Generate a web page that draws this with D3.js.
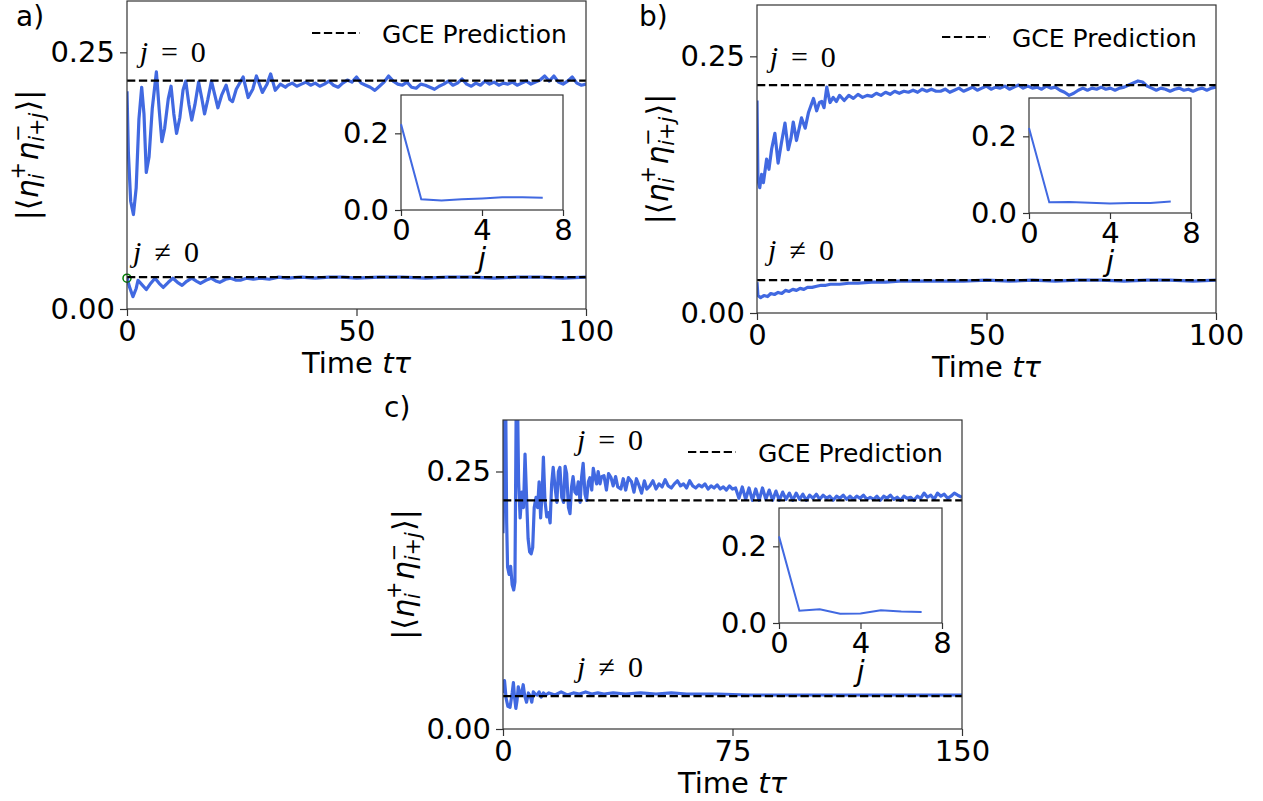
<!DOCTYPE html>
<html>
<head>
<meta charset="utf-8">
<script src="https://cdn.jsdelivr.net/npm/d3@7"></script>
<style>
  body { margin: 0; background: #fff; }
  text { font-family: "DejaVu Sans", sans-serif; }
</style>
</head>
<body>
<svg id="fig" width="1263" height="801"></svg>
<script>
// ---- data: [time, value] ----
const aZero = [[0,0.212],[0.3,0.152],[0.8,0.105],[1.4,0.092],[2.0,0.118],[2.6,0.185],[3.2,0.216],[3.7,0.19],[4.2,0.133],[4.8,0.148],[5.5,0.195],[6.4,0.231],[7.0,0.195],[7.6,0.163],[8.2,0.176],[9.0,0.205],[9.6,0.217],[10.2,0.19],[10.8,0.171],[11.5,0.186],[12.2,0.213],[12.8,0.222],[13.5,0.199],[14.1,0.184],[14.8,0.199],[15.6,0.221],[16.3,0.205],[16.9,0.19],[17.6,0.204],[18.4,0.222],[19.1,0.209],[19.8,0.196],[20.6,0.208],[21.6,0.218],[22.4,0.204],[23.0,0.202],[23.8,0.214],[25.3,0.226],[26.4,0.206],[27.4,0.214],[28.2,0.227],[29.5,0.211],[30.5,0.219],[31.3,0.229],[32.3,0.213],[33.4,0.219],[34.5,0.216],
  [35,0.218],[36,0.220],[37,0.217],[38,0.219],[39,0.221],[40,0.218],[41,0.220],[42,0.217],[43,0.219],[44,0.222],[45,0.218],[46,0.216],[47,0.220],[48,0.223],[49,0.221],[50,0.226],[51,0.220],[52,0.218],[53,0.216],[54,0.213],[55,0.217],[56,0.221],[57,0.227],[58,0.222],[59,0.219],[60,0.218],[61,0.221],[62,0.216],[63,0.215],[64,0.219],[65,0.218],[66,0.216],[67,0.214],[68,0.217],[69,0.219],[70,0.222],[71,0.218],[72,0.220],[73,0.224],[74,0.219],[75,0.217],[76,0.220],[77,0.218],[78,0.222],[79,0.219],[80,0.221],[81,0.218],[82,0.220],[83,0.219],[84,0.221],[85,0.218],[86,0.220],[87,0.222],[88,0.219],[89,0.221],[90,0.223],[91,0.227],[92,0.222],[93,0.227],[94,0.221],[95,0.219],[96,0.222],[97,0.226],[98,0.220],[99,0.218],[100,0.219]];
const aNonzero = [[0,0.031],[0.5,0.022],[1.3,0.012],[2.0,0.020],[2.4,0.028],[3.0,0.025],[4.2,0.019],[5.0,0.024],[6.1,0.030],[7.0,0.025],[7.9,0.021],[9.0,0.026],[10.0,0.030],[11.0,0.026],[12.0,0.023],[13.0,0.027],[14.1,0.030],[15.2,0.027],[16.0,0.025],[17.2,0.028],[18.3,0.030],[19.5,0.027],[20.2,0.026],[21.5,0.029],[22.6,0.030],[23.8,0.028],[24.7,0.028],[26,0.030],[27.5,0.029],[29,0.030],[31,0.029],[33,0.031],[35,0.030],[38,0.031],[41,0.030],[44,0.031],[47,0.031],[50,0.030],[55,0.031],[60,0.031],[65,0.030],[70,0.031],[75,0.031],[80,0.030],[85,0.031],[90,0.031],[95,0.030],[100,0.031]];
const aMarker = [[0,0.030]];

const bZero = [[0,0.207],[0.2,0.13],[0.6,0.122],[1.0,0.135],[1.4,0.127],[2.1,0.15],[2.6,0.14],[3.2,0.16],[3.9,0.175],[4.6,0.146],[5.3,0.165],[6.1,0.185],[6.8,0.159],[7.4,0.17],[7.9,0.186],[8.6,0.168],[9.7,0.19],[10.5,0.18],[11.2,0.195],[12.3,0.209],[13.0,0.197],[13.6,0.205],[14.1,0.206],[14.6,0.2],[15.2,0.22],[15.9,0.205],[16.6,0.21],[17.3,0.206],[18,0.212],[19,0.207],[20,0.212],[21,0.209],[22,0.213],[23,0.210],[24,0.212],[25,0.211],[26,0.214],[27,0.212],[28,0.215],[29,0.213],[30,0.216],[31,0.214],[32,0.216],[33,0.215],[34,0.217],[35,0.215],[36,0.218],[37,0.216],[38,0.218],[39,0.216],
  [40,0.216],[41,0.218],[42,0.215],[43,0.217],[44,0.219],[45,0.216],[46,0.218],[47,0.220],[48,0.217],[49,0.219],[50,0.221],[51,0.218],[52,0.220],[53,0.219],[54,0.221],[55,0.218],[56,0.220],[57,0.222],[58,0.219],[59,0.221],[60,0.219],[61,0.220],[62,0.218],[63,0.221],[64,0.219],[65,0.220],[66,0.217],[67,0.215],[68,0.212],[69,0.214],[70,0.217],[71,0.219],[72,0.217],[73,0.219],[74,0.218],[75,0.220],[76,0.218],[77,0.219],[78,0.217],[79,0.219],[80,0.220],[81,0.222],[82,0.224],[83,0.226],[84,0.225],[85,0.221],[86,0.219],[87,0.217],[88,0.219],[89,0.218],[90,0.216],[91,0.218],[92,0.219],[93,0.217],[94,0.218],[95,0.216],[96,0.218],[97,0.219],[98,0.217],[99,0.219],[100,0.220]];
const bNonzero = [[0,0.030],[0.2,0.017],[0.8,0.015],[1.5,0.017],[2.3,0.016],[3.0,0.019],[3.8,0.018],[4.6,0.020],[5.4,0.019],[6.2,0.022],[7.0,0.021],[7.8,0.023],[8.6,0.022],[9.4,0.024],[10.2,0.023],[11,0.025],[12,0.025],[13,0.026],[14,0.027],[15,0.027],[16,0.028],[18,0.028],[20,0.029],[22,0.029],[25,0.030],[28,0.030],[31,0.031],[35,0.031],[40,0.031],[45,0.031],[50,0.032],[55,0.031],[60,0.032],[65,0.031],[70,0.032],[75,0.032],[80,0.031],[85,0.032],[90,0.032],[95,0.031],[100,0.032]];

const cZero = [[0,0.19],[0.3,0.24],[0.6,0.33],[0.9,0.31],[1.2,0.2],[1.5,0.157],[2.0,0.15],[2.5,0.158],[3.0,0.14],[3.5,0.135],[3.9,0.143],[4.3,0.31],[4.7,0.33],[5.1,0.24],[5.6,0.205],[6.2,0.23],[6.7,0.215],[7.2,0.267],[7.7,0.225],[8.2,0.185],[8.7,0.172],[9.2,0.17],[9.7,0.176],[10.2,0.215],[10.8,0.225],[11.3,0.215],[11.8,0.24],[12.3,0.205],[12.8,0.23],[13.2,0.264],[13.7,0.222],[14.3,0.206],[14.9,0.21],[15.4,0.2],[15.9,0.238],[16.4,0.254],[17,0.235],[17.6,0.22],[18.1,0.25],[18.6,0.254],[19.2,0.225],[19.8,0.22],[20.3,0.255],[20.8,0.248],[21.4,0.215],[21.9,0.209],[22.4,0.235],[22.9,0.245],[23.5,0.23],[24,0.228],[24.6,0.24],[25.2,0.22],[25.7,0.245],[26.2,0.258],[26.8,0.228],[27.3,0.222],[27.9,0.24],[28.4,0.244],[29,0.232],[29.5,0.253],[30,0.245],[30.6,0.238],[31.1,0.25],[31.7,0.238],[32.2,0.245],[33.0,0.246],[33.8,0.232],[34.5,0.248],[35.3,0.244],[36,0.236],[36.8,0.245],[37.5,0.235],[38.5,0.233],[39.3,0.243],[40.1,0.232],[41,0.244],[42,0.24],[42.8,0.23],[43.6,0.243],[44.5,0.236],[45.3,0.229],[46.2,0.241],[47,0.233],[48,0.236],[49,0.241],[50,0.233],[51,0.238],[52,0.235],[53,0.242],[54,0.236],[55,0.234],[56,0.238],[57,0.241],
  [58,0.236],[59,0.238],[60,0.234],[61,0.241],[62,0.236],[63,0.234],[64,0.237],[65,0.235],[66,0.238],[67,0.233],[68,0.236],[69,0.234],[70,0.237],[71,0.233],[72,0.235],[73,0.232],[74,0.236],[75,0.233],
  [76,0.234],[77.1,0.224],[78.2,0.235],[79.3,0.223],[80.4,0.234],[81.5,0.222],[82.6,0.233],[83.7,0.222],[84.8,0.234],[85.9,0.223],[87,0.232],[88.1,0.222],[89.2,0.231],[90.3,0.222],[91.4,0.230],[92.5,0.223],[93.6,0.229],[94.7,0.222],[95.8,0.229],[96.9,0.223],[98,0.228],[99.1,0.222],[100.2,0.227],
  [101.3,0.224],[102.4,0.228],[103.5,0.223],[104.6,0.227],[105.7,0.224],[106.8,0.226],[107.9,0.222],[109,0.226],[110.1,0.224],[111.2,0.227],[112.3,0.223],[113.4,0.226],[114.5,0.223],[115.6,0.226],[116.7,0.224],[117.8,0.227],[118.9,0.223],[120,0.225],[121.1,0.223],[122.2,0.226],[123.3,0.222],[124.4,0.226],[125.5,0.224],[126.6,0.227],[127.7,0.223],[128.8,0.225],[129.9,0.222],[131,0.226],[132.1,0.224],[133.2,0.225],[134.3,0.222],[135.4,0.226],[136.5,0.224],[137.6,0.229],[138.7,0.225],[139.8,0.227],[140.9,0.223],[142,0.229],[143.1,0.226],[144.2,0.228],[145.3,0.224],[146.4,0.226],[147.5,0.229],[148.6,0.227],[150,0.225]];
const cNonzero = [[0,0.035],[0.5,0.047],[1.0,0.030],[1.6,0.022],[2.3,0.021],[3.0,0.035],[3.4,0.045],[3.8,0.030],[4.2,0.020],[4.6,0.028],[5.0,0.041],[5.5,0.034],[6.0,0.033],[6.6,0.043],[7.1,0.032],[7.7,0.026],[8.3,0.035],[8.9,0.032],[9.4,0.026],[9.9,0.036],[10.5,0.034],[11.2,0.033],[11.8,0.036],[12.5,0.031],[13.2,0.035],[14,0.033],[15,0.035],[17,0.033],[19,0.036],[21,0.033],[23,0.035],[25,0.034],[27,0.036],[29,0.034],[31,0.035],[33,0.034],[36,0.035],[40,0.034],[45,0.035],[50,0.034],[55,0.035],[60,0.034],[65,0.034],[70,0.034],[80,0.033],[90,0.033],[100,0.033],[110,0.033],[120,0.033],[130,0.033],[140,0.033],[150,0.033]];

// GCE prediction levels [j=0, j!=0]
const gceA = [0.2225, 0.031];
const gceB = [0.222, 0.032];
const gceC = [0.222, 0.032];

// insets: correlation vs j
const insetJ = [0, 1, 2, 3, 4, 5, 6, 7];
const insetA = [0.224, 0.028, 0.025, 0.028, 0.030, 0.033, 0.033, 0.032];
const insetB = [0.222, 0.028, 0.029, 0.027, 0.025, 0.026, 0.026, 0.030];
const insetC = [0.226, 0.032, 0.036, 0.024, 0.025, 0.033, 0.030, 0.029];

const yTicks = [0, 0.25];
const insetYTicks = [0, 0.2];
const insetXTicks = [0, 4, 8];

// layout of each panel (pixels)
const panels = [
  {name: 'a)', lx: 16, ly: 26, left: 127, top: 1, right: 586, bottom: 309, xMax: 100, xTicks: [0, 50, 100],
   zero: aZero, nonzero: aNonzero, gce: gceA, ins: insetA, box: [401, 95, 563, 210],
   j0: [2.8, 0.241], jn: [1.3, 0.046], marker: aMarker},
  {name: 'b)', lx: 639, ly: 26, left: 757, top: 5, right: 1216, bottom: 313, xMax: 100, xTicks: [0, 50, 100],
   zero: bZero, nonzero: bNonzero, gce: gceB, ins: insetB, box: [1029, 98, 1191, 213],
   j0: [2.8, 0.2395], jn: [2.4, 0.0516]},
  {name: 'c)', lx: 384, ly: 417, left: 503, top: 420, right: 962, bottom: 729, xMax: 150, xTicks: [0, 75, 150],
   zero: cZero, nonzero: cNonzero, gce: gceC, ins: insetC, box: [779, 508, 942, 623],
   j0: [24.2, 0.271], jn: [24.2, 0.0504]}
];

const blue = '#4169e1';
const fs = 29;
const svg = d3.select('#fig');

function styleAxis(g) {
  g.select('.domain').remove();
  g.selectAll('.tick line').attr('stroke', '#333').attr('stroke-width', 1.2);
  g.selectAll('.tick text').attr('fill', '#000').style('font-size', fs + 'px').style('font-family', 'DejaVu Sans');
}

// |<eta_i^+ eta_{i+j}^->| rotated label
function yLabel(x, y) {
  const s = 30, sm = 21;
  const g = svg.append('g');
  let pos = 0;
  const add = (parts, size, dy) => {
    const t = g.append('text').attr('x', pos).attr('y', dy).style('font-size', size + 'px');
    parts.forEach(p => t.append('tspan').text(p[0]).style('font-style', p[1] ? 'italic' : 'normal'));
    return t.node().getComputedTextLength();
  };
  pos += add([['|']], s, 0);
  pos += add([['⟨']], s, 0);
  pos += add([['η', 1]], s, 0);
  pos += Math.max(add([['+']], sm, -13), add([['i', 1]], sm, 6)) + 1;
  pos += add([['η', 1]], s, 0);
  pos += Math.max(add([['−']], sm, -13), add([['i', 1], ['+'], ['j', 1]], sm, 6)) + 1;
  pos += add([['⟩']], s, 0);
  pos += add([['|']], s, 0);
  g.attr('transform', `translate(${x},${y}) rotate(-90) translate(${-pos / 2},0)`);
}

panels.forEach((p, k) => {
  const x = d3.scaleLinear().domain([0, p.xMax]).range([p.left, p.right]);
  const y = d3.scaleLinear().domain([0, 0.3]).range([p.bottom, p.top]);
  const line = d3.line().x(d => x(d[0])).y(d => y(d[1]));

  svg.append('clipPath').attr('id', 'clip' + k)
    .append('rect').attr('x', p.left).attr('y', p.top)
    .attr('width', p.right - p.left).attr('height', p.bottom - p.top);

  // data curves
  svg.append('g').attr('clip-path', `url(#clip${k})`)
    .selectAll('path').data([p.zero, p.nonzero]).join('path')
    .attr('d', line).attr('fill', 'none').attr('stroke', blue)
    .attr('stroke-width', 3.2).attr('stroke-linejoin', 'round');

  if (p.marker) {
    svg.selectAll('.mk' + k).data(p.marker).join('circle')
      .attr('cx', d => x(d[0])).attr('cy', d => y(d[1])).attr('r', 4)
      .attr('fill', 'none').attr('stroke', 'green').attr('stroke-width', 1.5);
  }

  // GCE prediction dashed lines
  svg.append('g').selectAll('path').data(p.gce).join('path')
    .attr('d', v => line([[0, v], [p.xMax, v]]))
    .attr('stroke', '#000').attr('stroke-width', 2.2).attr('stroke-dasharray', '8.3,3.6');

  // frame
  svg.append('rect').attr('x', p.left).attr('y', p.top)
    .attr('width', p.right - p.left).attr('height', p.bottom - p.top)
    .attr('fill', 'none').attr('stroke', '#333').attr('stroke-width', 1.2);

  svg.append('g').attr('transform', `translate(0,${p.bottom})`)
    .call(d3.axisBottom(x).tickValues(p.xTicks).tickSize(7).tickPadding(4).tickFormat(d3.format('d')))
    .call(styleAxis);
  svg.append('g').attr('transform', `translate(${p.left},0)`)
    .call(d3.axisLeft(y).tickValues(yTicks).tickSize(7).tickPadding(5).tickFormat(d3.format('.2f')))
    .call(styleAxis);

  // x label
  const xl = svg.append('text').attr('x', (p.left + p.right) / 2).attr('y', p.bottom + 64)
    .attr('text-anchor', 'middle').style('font-size', fs + 'px');
  xl.append('tspan').text('Time ');
  xl.append('tspan').text('tτ').style('font-style', 'italic');

  yLabel(p.left - 89, (p.top + p.bottom) / 2);

  // panel letter
  svg.append('text').attr('x', p.lx).attr('y', p.ly).style('font-size', '28px').text(p.name);

  // legend
  svg.append('line').attr('x1', p.right - 274).attr('x2', p.right - 226)
    .attr('y1', p.top + 32).attr('y2', p.top + 32)
    .attr('stroke', '#000').attr('stroke-width', 2.2).attr('stroke-dasharray', '8.3,3.6');
  svg.append('text').attr('x', p.right - 204).attr('y', p.top + 42)
    .style('font-size', '25px').text('GCE Prediction');

  // j annotations
  [[p.j0, ' = 0'], [p.jn, ' ≠ 0']].forEach(([pt, rest]) => {
    const t = svg.append('text').attr('x', x(pt[0])).attr('y', y(pt[1]))
      .style('font-family', 'Liberation Serif').style('font-size', '30px')
      .attr('textLength', 66).attr('lengthAdjust', 'spacing');
    t.append('tspan').text('j').style('font-style', 'italic');
    t.append('tspan').text(rest);
  });

  // inset
  const [il, it, ir, ib] = p.box;
  const ix = d3.scaleLinear().domain([0, 8]).range([il, ir]);
  const iy = d3.scaleLinear().domain([0, 0.3]).range([ib, it]);
  svg.append('rect').attr('x', il).attr('y', it).attr('width', ir - il).attr('height', ib - it)
    .attr('fill', '#fff').attr('stroke', '#333').attr('stroke-width', 1.2);
  svg.append('path').datum(insetJ.map((j, i) => [j, p.ins[i]]))
    .attr('d', d3.line().x(d => ix(d[0])).y(d => iy(d[1])))
    .attr('fill', 'none').attr('stroke', blue).attr('stroke-width', 2);
  svg.append('g').attr('transform', `translate(0,${ib})`)
    .call(d3.axisBottom(ix).tickValues(insetXTicks).tickSize(6).tickPadding(3).tickFormat(d3.format('d')))
    .call(styleAxis);
  svg.append('g').attr('transform', `translate(${il},0)`)
    .call(d3.axisLeft(iy).tickValues(insetYTicks).tickSize(6).tickPadding(6).tickFormat(d3.format('.1f')))
    .call(styleAxis);
  svg.append('text').attr('x', (il + ir) / 2).attr('y', ib + 58).attr('text-anchor', 'middle')
    .style('font-size', fs + 'px').style('font-style', 'italic').text('j');
});
</script>
</body>
</html>
